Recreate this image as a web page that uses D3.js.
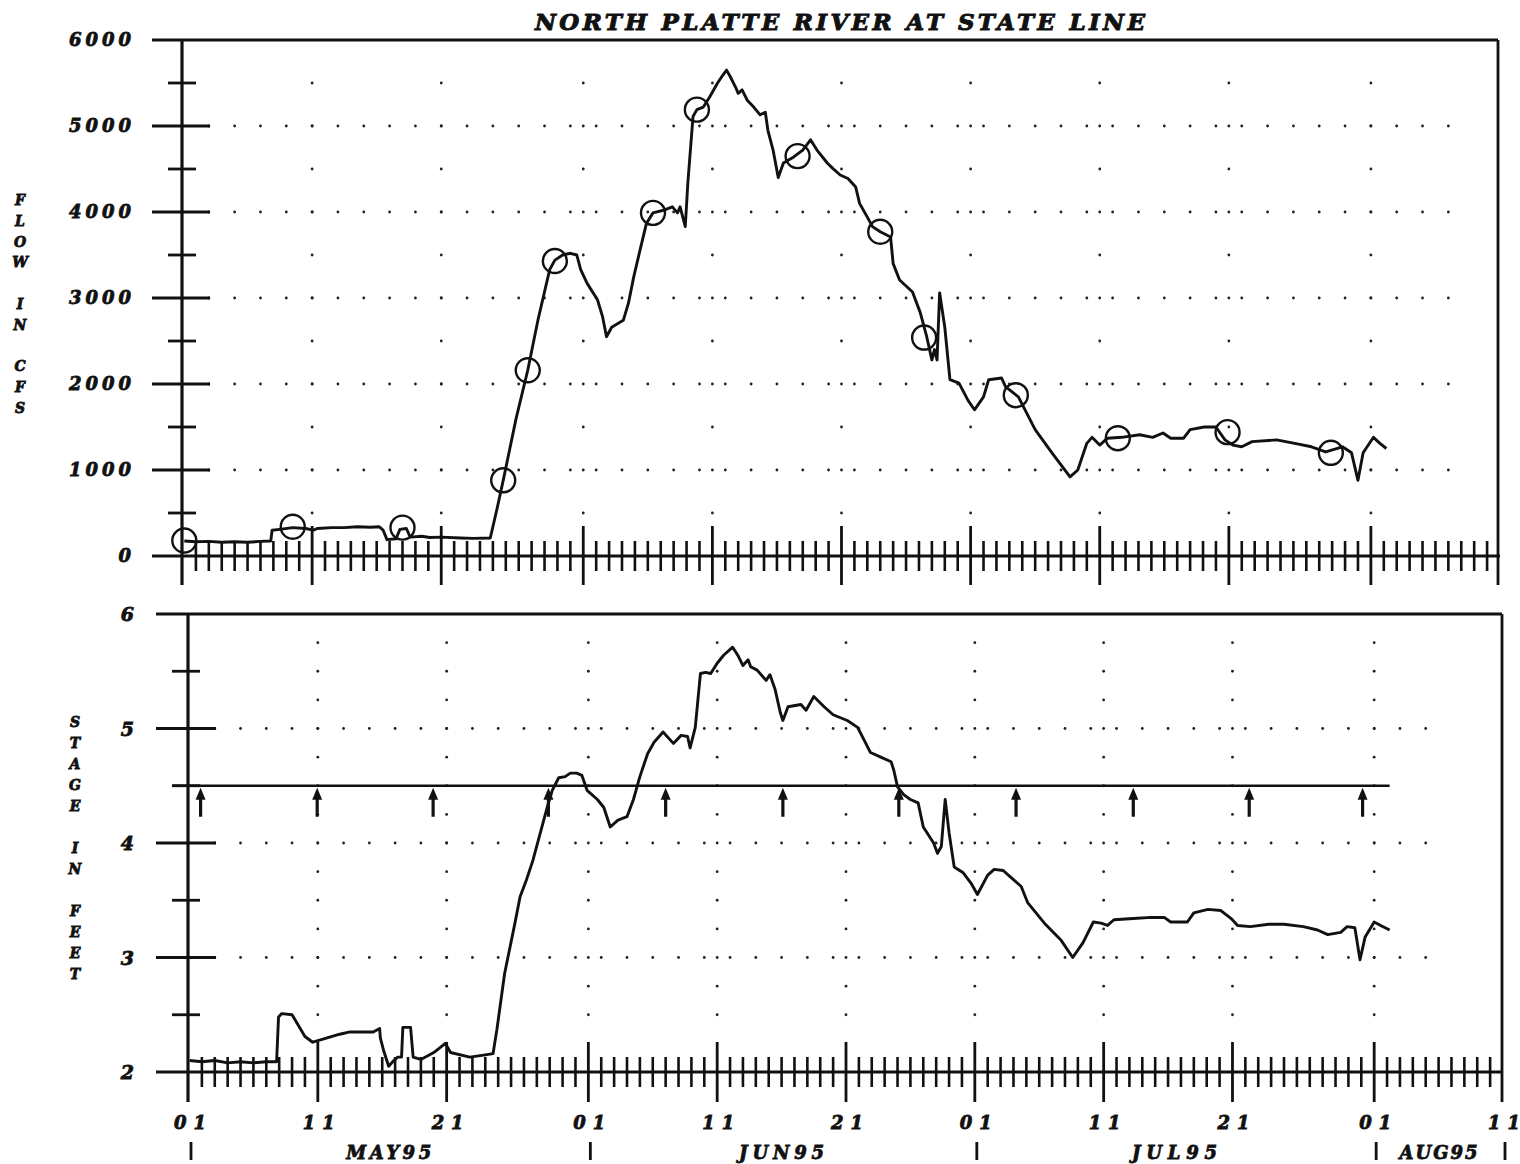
<!DOCTYPE html>
<html><head><meta charset="utf-8">
<script src="https://cdn.jsdelivr.net/npm/d3@7"></script>
<style>body{margin:0;background:#fff}</style>
</head><body>
<svg id="c" width="1520" height="1164"></svg>
<script>
// ---------- DATA (day offset from 01 May 1995) ----------
const titleText = "NORTH PLATTE RIVER AT STATE LINE";
const flowData = [[0.1,175],[1,165],[2,170],[3,160],[4,165],[5,160],[6,170],[6.8,175],[6.9,300],[7.5,310],[8.5,330],[9.5,320],[10.1,300],[10.4,320],[11.5,330],[12.5,330],[13.5,340],[14.5,335],[15.2,340],[15.5,300],[15.8,190],[16.5,200],[16.8,310],[17.3,320],[17.6,220],[18.5,230],[19.1,215],[20,220],[21.5,210],[22.5,205],[23.8,210],[24.3,535],[24.8,880],[25.8,1600],[26.7,2160],[27.5,2750],[28.4,3330],[28.8,3440],[29.4,3500],[30.0,3520],[30.5,3500],[30.8,3330],[31.3,3170],[32.1,2980],[32.5,2780],[32.8,2550],[33.2,2660],[34.1,2740],[34.5,2940],[34.9,3240],[35.4,3560],[35.9,3870],[36.4,3990],[37.2,4020],[37.9,4060],[38.3,3990],[38.5,4060],[38.9,3830],[39.1,4340],[39.5,5110],[39.8,5190],[40.3,5220],[40.8,5340],[41.4,5500],[41.8,5590],[42.1,5650],[42.4,5570],[42.8,5450],[43.0,5380],[43.3,5420],[43.7,5300],[44.2,5220],[44.7,5130],[45.1,5160],[45.3,4950],[45.7,4720],[46.1,4400],[46.5,4570],[47.3,4640],[48.0,4720],[48.6,4840],[49.1,4720],[49.9,4570],[50.3,4510],[50.9,4430],[51.5,4390],[52.1,4290],[52.4,4100],[53.0,3940],[53.4,3830],[54.0,3770],[54.8,3710],[55.0,3400],[55.5,3210],[56.5,3070],[57.1,2830],[57.6,2550],[58.0,2280],[58.2,2400],[58.4,2280],[58.6,3060],[59.0,2660],[59.4,2050],[60.1,2010],[60.8,1810],[61.3,1700],[62.0,1850],[62.4,2050],[63.4,2070],[63.7,1970],[64.7,1850],[66.0,1470],[67.3,1200],[68.7,920],[69.3,1000],[70.0,1310],[70.4,1380],[71.0,1290],[71.6,1370],[72.7,1380],[74.1,1410],[75.1,1380],[75.9,1430],[76.5,1370],[77.5,1370],[78.0,1470],[79.1,1500],[80.0,1500],[80.7,1350],[81.3,1290],[82.0,1270],[82.8,1330],[84.7,1350],[86.1,1310],[87.4,1270],[88.5,1210],[89.8,1270],[90.5,1200],[91.0,880],[91.4,1200],[92.2,1380],[92.7,1310],[93.2,1250]];
const measuredFlow = [[0.1,180],[8.5,340],[17.0,330],[24.8,880],[26.7,2160],[28.8,3430],[36.4,3990],[39.8,5190],[47.6,4650],[54.0,3770],[57.4,2540],[64.5,1870],[72.4,1370],[80.9,1440],[88.9,1200]];
const stageData = [[0.05,2.10],[1,2.09],[2,2.10],[3,2.08],[4,2.09],[5,2.08],[6,2.09],[6.8,2.09],[6.95,2.48],[7.2,2.51],[8.0,2.50],[9.0,2.31],[9.6,2.26],[10.2,2.28],[11.7,2.33],[12.5,2.35],[14.3,2.35],[14.8,2.38],[14.85,2.30],[15.1,2.19],[15.5,2.05],[15.9,2.10],[16.2,2.13],[16.5,2.13],[16.6,2.39],[17.2,2.39],[17.4,2.13],[18.0,2.11],[19.0,2.17],[19.9,2.25],[20.3,2.17],[21.8,2.13],[23.0,2.15],[23.6,2.16],[23.9,2.37],[24.5,2.86],[25.3,3.30],[25.7,3.53],[26.2,3.68],[26.7,3.85],[27.8,4.31],[28.2,4.46],[28.7,4.57],[29.2,4.58],[29.6,4.61],[30.1,4.61],[30.5,4.59],[30.9,4.46],[31.7,4.38],[32.2,4.31],[32.7,4.14],[33.3,4.20],[34.0,4.23],[34.5,4.38],[35.0,4.58],[35.6,4.78],[36.1,4.88],[36.8,4.97],[37.6,4.87],[38.2,4.94],[38.7,4.93],[38.9,4.83],[39.3,5.01],[39.7,5.48],[40.1,5.49],[40.5,5.48],[41.0,5.57],[41.5,5.64],[42.2,5.71],[42.6,5.64],[43.0,5.55],[43.4,5.60],[43.6,5.54],[44.1,5.51],[44.8,5.42],[45.1,5.47],[45.5,5.34],[45.9,5.14],[46.1,5.07],[46.5,5.19],[47.5,5.21],[47.9,5.16],[48.5,5.28],[49.3,5.19],[50.0,5.12],[51.1,5.07],[51.9,5.01],[52.4,4.90],[52.9,4.79],[53.7,4.75],[54.5,4.71],[54.7,4.64],[55.0,4.49],[55.5,4.42],[56.0,4.38],[56.6,4.35],[57.0,4.14],[57.8,4.00],[58.1,3.91],[58.4,3.97],[58.7,4.38],[59.0,4.09],[59.4,3.79],[60.1,3.74],[60.7,3.65],[61.2,3.55],[62.0,3.72],[62.5,3.77],[63.2,3.76],[63.8,3.70],[64.6,3.62],[65.1,3.48],[66.4,3.30],[67.7,3.15],[68.6,3.00],[69.4,3.13],[70.2,3.31],[70.8,3.30],[71.3,3.28],[71.8,3.33],[73.3,3.34],[74.7,3.35],[75.7,3.35],[76.2,3.31],[77.5,3.31],[78.0,3.39],[79.1,3.42],[80.1,3.41],[80.9,3.34],[81.4,3.28],[82.4,3.27],[83.8,3.29],[85.0,3.29],[86.5,3.27],[87.6,3.24],[88.4,3.20],[89.4,3.22],[89.9,3.27],[90.5,3.26],[90.9,2.98],[91.3,3.18],[92.0,3.31],[92.5,3.28],[93.2,3.24]];
const refStage = 4.5;
const refExtent = [-1.3, 93.2];
const arrowDays = [0.9, 9.95, 18.95, 27.9, 37.0, 46.1, 55.1, 64.2, 73.3, 82.3, 91.1];
const majorDays = [10, 20, 31, 41, 51, 61, 71, 81, 92];
const xLabelDays = [0, 10, 20, 31, 41, 51, 61, 71, 81, 92, 102];
const xLabels = ["01","11","21","01","11","21","01","11","21","01","11"];
const monthBounds = [0, 31, 61, 92, 102];
const monthLabels = ["MAY95","JUN95","JUL95","AUG95"];
const flowTicks = [0,1000,2000,3000,4000,5000,6000];
const stageTicks = [2,3,4,5,6];
const flowAxisTitle = "FLOW IN CFS";
const stageAxisTitle = "STAGE IN FEET";

// ---------- SCALES ----------
const xTop = d3.scaleLinear().domain([0,102]).range([183,1500]);
const yTop = d3.scaleLinear().domain([0,6000]).range([556,40]);
const xBot = d3.scaleLinear().domain([0,102]).range([189,1503]);
const yBot = d3.scaleLinear().domain([2,6]).range([1072,614]);

const svg = d3.select("#c");
const FONT = "'DejaVu Serif', serif";
const ink = "#111";

function ln(g, x1,y1,x2,y2,w){ g.append("line").attr("x1",x1).attr("y1",y1).attr("x2",x2).attr("y2",y2).attr("stroke",ink).attr("stroke-width",w||2); }
function txt(x,y,s,opt){
  opt = opt||{};
  const t = svg.append("text").attr("x",x).attr("y",y).text(s)
    .attr("font-family",FONT).attr("font-weight","bold").attr("font-style","italic")
    .attr("font-size",opt.size||17).attr("fill",ink).attr("text-anchor",opt.anchor||"start")
    .attr("stroke",ink).attr("stroke-width",opt.sw==null?0.8:opt.sw);
  if(opt.len){ t.attr("textLength",opt.len).attr("lengthAdjust","spacing"); }
  return t;
}

// ---------- GRID DOTS ----------
const dots = svg.append("g").attr("fill","#222");
function dot(x,y){ dots.append("circle").attr("cx",x).attr("cy",y).attr("r",1.4); }
[1000,2000,3000,4000,5000].forEach(v=>{ for(let d=2; d<=98; d+=2) dot(xTop(d), yTop(v)); });
majorDays.forEach(d=>{ for(let v=500; v<6000; v+=500) dot(xTop(d), yTop(v)); });
[3,4,5].forEach(v=>{ for(let d=2; d<=96; d+=2) dot(xBot(d), yBot(v)); });
majorDays.forEach(d=>{ for(let v=2.5; v<6; v+=0.25) dot(xBot(d), yBot(v)); });

// ---------- FRAMES & AXES ----------
const ax = svg.append("g");
// top panel
ln(ax, 152, yTop(6000), xTop(102)-2, yTop(6000), 2.8);
ln(ax, xTop(102)-2, yTop(6000), xTop(102)-2, 585, 2.8);
ln(ax, 152, yTop(0), xTop(102), yTop(0), 2.8);
ln(ax, xTop(0)-1, yTop(6000), xTop(0)-1, 585, 3.2);
flowTicks.forEach(v=>{ if(v>0 && v<6000) ln(ax, 152, yTop(v), 210, yTop(v), 2.8); });
for(let v=500; v<6000; v+=1000) ln(ax, 168, yTop(v), 196, yTop(v), 2.8);
for(let d=1; d<102; d++){
  if(majorDays.includes(d)) ln(ax, xTop(d), 526, xTop(d), 585, 2.8);
  else ln(ax, xTop(d), 541, xTop(d), 571, 2.6);
}
// bottom panel
ln(ax, 156, yBot(6), xBot(102)-1, yBot(6), 2.8);
ln(ax, xBot(102)-1, yBot(6), xBot(102)-1, 1102, 2.8);
ln(ax, 156, yBot(2), xBot(102), yBot(2), 2.8);
ln(ax, xBot(0)-1, yBot(6), xBot(0)-1, 1102, 3.2);
stageTicks.forEach(v=>{ if(v>2 && v<6) ln(ax, 156, yBot(v), 216, yBot(v), 2.8); });
for(let v=2.5; v<6; v+=1) ln(ax, 172, yBot(v), 200, yBot(v), 2.8);
for(let d=1; d<102; d++){
  if(majorDays.includes(d)) ln(ax, xBot(d), 1042, xBot(d), 1102, 2.8);
  else ln(ax, xBot(d), 1057, xBot(d), 1087, 2.6);
}

// reference stage line and arrows
ln(ax, xBot(refExtent[0]), yBot(refStage), xBot(refExtent[1]), yBot(refStage), 2.6);
arrowDays.forEach(d=>{
  const x = xBot(d), y = yBot(refStage);
  ln(ax, x, y+10, x, y+31, 3.2);
  ax.append("path").attr("d",`M${x},${y+2}L${x-5},${y+14}L${x+5},${y+14}Z`).attr("fill",ink);
});

// ---------- DATA LINES ----------
const lineTop = d3.line().x(d=>xTop(d[0])).y(d=>yTop(d[1]));
const lineBot = d3.line().x(d=>xBot(d[0])).y(d=>yBot(d[1]));
svg.append("path").datum(flowData).attr("d",lineTop).attr("fill","none").attr("stroke",ink).attr("stroke-width",2.9).attr("stroke-linejoin","round");
svg.append("path").datum(stageData).attr("d",lineBot).attr("fill","none").attr("stroke",ink).attr("stroke-width",2.9).attr("stroke-linejoin","round");
svg.append("g").selectAll("circle").data(measuredFlow).join("circle")
  .attr("cx",d=>xTop(d[0])).attr("cy",d=>yTop(d[1])).attr("r",12)
  .attr("fill","none").attr("stroke",ink).attr("stroke-width",2.4);

// ---------- TEXT ----------
txt(535, 30, titleText, {size:23, len:610, sw:1});
flowTicks.forEach(v=>{
  const s = String(v);
  txt(131, yTop(v)+6, s, {size:18, anchor:"end", len: s.length>1 ? s.length*15.5 : null});
});
stageTicks.forEach(v=>{ txt(134, yBot(v)+7, String(v), {size:19, anchor:"end"}); });
xLabelDays.forEach((d,i)=>{ txt(xBot(d)+1, 1129, xLabels[i], {size:18, anchor:"middle", len:32}); });
monthLabels.forEach((m,i)=>{
  const cx = (xBot(monthBounds[i]) + xBot(monthBounds[i+1]))/2;
  txt(cx, 1159, m, {size:18, anchor:"middle", len: i===3 ? 78 : 85});
});
monthBounds.forEach(d=>{ ln(ax, xBot(d)+2, 1142, xBot(d)+2, 1160, 2.8); });
// vertical axis titles (stacked letters)
flowAxisTitle.split("").forEach((c,i)=>{ if(c!==" ") txt(20, 205 + i*20.8, c, {size:14, anchor:"middle"}); });
stageAxisTitle.split("").forEach((c,i)=>{ if(c!==" ") txt(75, 727 + i*21, c, {size:14, anchor:"middle"}); });
</script>
</body></html>
